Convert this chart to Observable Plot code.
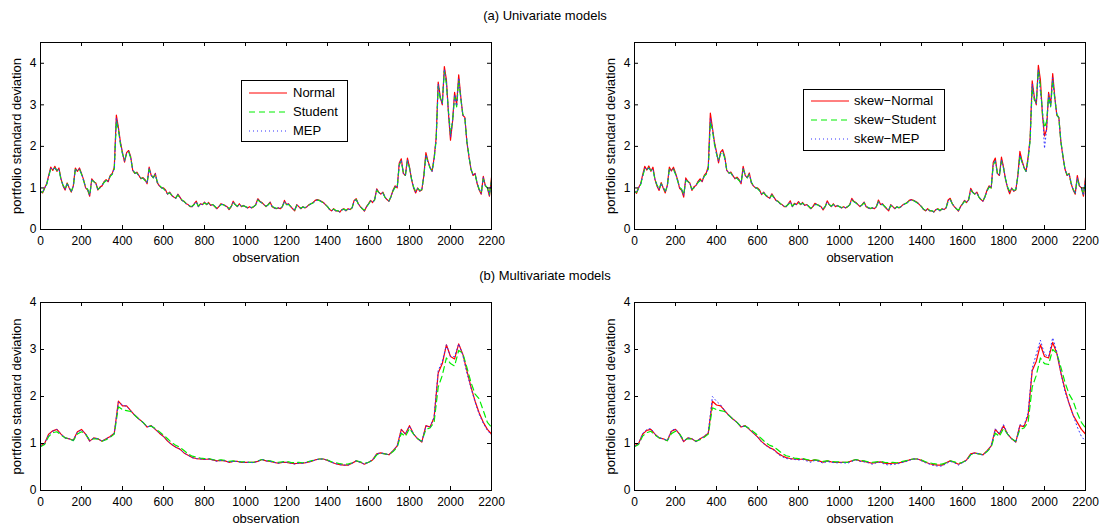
<!DOCTYPE html>
<html>
<head>
<meta charset="utf-8">
<script src="https://cdn.jsdelivr.net/npm/d3@7"></script>
<script src="https://cdn.jsdelivr.net/npm/@observablehq/plot@0.6"></script>
<style>
  body { margin: 0; background: white; }
  #wrap { position: relative; width: 1105px; height: 528px; background: white; overflow: hidden;
          font-family: 'Liberation Sans', Arial, Helvetica, sans-serif; color: black; }
  .panel { position: absolute; }
  .title { position: absolute; left: 0; width: 1090px; text-align: center; font-size: 13px; line-height: 14px; }
  .legend { position: absolute; box-sizing: border-box; border: 1.5px solid black; background: white; }
  .row { position: absolute; left: 0; height: 16px; line-height: 16px; font-size: 13px; width: 100%; }
  .row svg { position: absolute; left: 7px; top: 7px; }
  .row span { position: absolute; }
</style>
</head>
<body>
<div id="wrap"></div>
<script>
// ---------- tick labels / axis text ----------
const xTicks = [0, 200, 400, 600, 800, 1000, 1200, 1400, 1600, 1800, 2000, 2200];
const yTicksUni = [0, 1, 2, 3, 4];
const yTicksMulti = [0, 1, 2, 3, 4];
const xLabel = "observation";
const yLabel = "portfolio standard deviation";
const titleA = "(a) Univariate models";
const titleB = "(b) Multivariate models";
const namesUni = ["Normal", "Student", "MEP"];
const namesSkew = ["skew\u2212Normal", "skew\u2212Student", "skew\u2212MEP"];

// observation index grids
const obs10 = d3.range(0, 2201, 10);
const obs20 = d3.range(0, 2201, 20);

// ---------- (a) univariate, symmetric (step 10) ----------
const uniNormal = [
0.92,0.88,1.0,1.1,1.3,1.5,1.42,1.52,1.4,1.48,
1.22,1.05,0.95,1.12,1.0,0.9,1.05,1.48,1.4,1.48,
1.35,1.2,1.0,0.95,0.8,1.22,1.15,1.12,0.95,1.02,
1.05,1.15,1.2,1.15,1.3,1.35,1.5,2.75,2.45,2.1,
1.85,1.62,1.85,1.9,1.75,1.42,1.35,1.38,1.3,1.22,
1.25,1.2,1.1,1.5,1.3,1.25,1.35,1.12,1.05,1.0,
1.0,0.95,0.85,0.9,0.82,0.78,0.75,0.85,0.78,0.7,
0.68,0.62,0.6,0.55,0.55,0.62,0.68,0.55,0.62,0.6,
0.66,0.6,0.65,0.58,0.6,0.55,0.5,0.55,0.62,0.6,
0.58,0.55,0.48,0.55,0.68,0.6,0.55,0.62,0.55,0.58,
0.55,0.52,0.55,0.52,0.55,0.6,0.74,0.68,0.65,0.6,
0.55,0.6,0.66,0.55,0.52,0.5,0.52,0.5,0.55,0.7,
0.6,0.62,0.55,0.5,0.45,0.6,0.55,0.5,0.55,0.52,
0.55,0.6,0.62,0.65,0.7,0.72,0.7,0.68,0.65,0.6,
0.55,0.48,0.45,0.5,0.45,0.45,0.42,0.48,0.5,0.45,
0.5,0.48,0.52,0.7,0.74,0.62,0.55,0.5,0.44,0.55,
0.62,0.7,0.65,0.72,0.98,0.9,0.85,0.9,0.78,0.72,
0.68,0.8,0.95,1.05,1.0,1.6,1.7,1.35,1.3,1.72,
1.5,1.2,1.0,0.88,1.0,0.92,0.95,1.3,1.85,1.65,
1.5,1.4,1.72,2.2,3.55,3.2,3.0,3.92,3.6,2.8,
2.15,2.6,3.3,3.0,3.72,3.2,2.75,2.7,2.1,1.75,
1.45,1.3,1.35,1.1,0.95,0.85,1.28,1.05,1.0,0.8,
1.25];
const uniStudent = [
0.9,0.9,0.98,1.08,1.28,1.46,1.45,1.48,1.42,1.45,
1.2,1.07,0.97,1.1,1.02,0.92,1.03,1.44,1.42,1.45,
1.33,1.18,1.02,0.97,0.83,1.18,1.16,1.1,0.97,1.0,
1.07,1.13,1.18,1.17,1.28,1.33,1.45,2.62,2.4,2.05,
1.82,1.66,1.82,1.87,1.72,1.44,1.36,1.36,1.28,1.24,
1.23,1.18,1.12,1.45,1.32,1.24,1.33,1.14,1.06,1.01,
0.98,0.93,0.86,0.88,0.83,0.79,0.76,0.83,0.77,0.71,
0.67,0.63,0.59,0.56,0.56,0.6,0.66,0.56,0.61,0.6,
0.64,0.61,0.63,0.59,0.6,0.56,0.51,0.55,0.6,0.6,
0.57,0.55,0.5,0.55,0.65,0.6,0.56,0.6,0.56,0.57,
0.55,0.53,0.54,0.53,0.55,0.59,0.71,0.67,0.64,0.6,
0.56,0.59,0.64,0.56,0.53,0.51,0.52,0.51,0.55,0.67,
0.6,0.6,0.56,0.51,0.47,0.58,0.55,0.51,0.54,0.53,
0.55,0.59,0.62,0.64,0.69,0.71,0.7,0.67,0.64,0.6,
0.55,0.49,0.46,0.49,0.46,0.45,0.43,0.47,0.49,0.46,
0.49,0.48,0.52,0.68,0.72,0.62,0.55,0.5,0.46,0.54,
0.61,0.68,0.65,0.71,0.95,0.89,0.85,0.88,0.78,0.72,
0.69,0.79,0.93,1.02,1.0,1.55,1.65,1.36,1.3,1.65,
1.48,1.22,1.02,0.92,0.99,0.94,0.96,1.28,1.78,1.62,
1.48,1.4,1.68,2.15,3.45,3.15,3.05,3.82,3.5,2.85,
2.3,2.6,3.2,2.95,3.6,3.15,2.78,2.68,2.12,1.78,
1.45,1.32,1.33,1.12,0.97,0.88,1.22,1.06,1.0,0.84,
1.18];
const uniMEP = [
0.91,0.89,0.99,1.09,1.29,1.48,1.43,1.5,1.41,1.46,
1.21,1.06,0.96,1.11,1.01,0.91,1.04,1.46,1.41,1.46,
1.34,1.19,1.01,0.96,0.82,1.2,1.15,1.11,0.96,1.01,
1.06,1.14,1.19,1.16,1.29,1.34,1.47,2.68,2.42,2.08,
1.83,1.64,1.83,1.88,1.73,1.43,1.35,1.37,1.29,1.23,
1.24,1.19,1.11,1.47,1.31,1.24,1.34,1.13,1.05,1.0,
0.99,0.94,0.85,0.89,0.82,0.78,0.75,0.84,0.77,0.7,
0.67,0.62,0.6,0.55,0.55,0.61,0.67,0.55,0.61,0.6,
0.65,0.6,0.64,0.58,0.6,0.55,0.5,0.55,0.61,0.6,
0.57,0.55,0.49,0.55,0.66,0.6,0.55,0.61,0.55,0.57,
0.55,0.52,0.54,0.52,0.55,0.6,0.72,0.67,0.64,0.6,
0.55,0.59,0.65,0.55,0.52,0.5,0.52,0.5,0.55,0.68,
0.6,0.61,0.55,0.5,0.46,0.59,0.55,0.5,0.54,0.52,
0.55,0.59,0.62,0.64,0.69,0.71,0.7,0.67,0.64,0.6,
0.55,0.48,0.45,0.49,0.45,0.45,0.42,0.47,0.49,0.45,
0.49,0.48,0.52,0.69,0.73,0.62,0.55,0.5,0.45,0.54,
0.61,0.69,0.65,0.71,0.96,0.89,0.85,0.89,0.78,0.72,
0.68,0.79,0.94,1.03,1.0,1.57,1.67,1.35,1.3,1.68,
1.49,1.21,1.01,0.9,0.99,0.93,0.95,1.29,1.8,1.63,
1.49,1.4,1.7,2.17,3.5,3.18,3.02,3.86,3.55,2.82,
2.22,2.6,3.25,2.97,3.65,3.18,2.76,2.69,2.11,1.76,
1.45,1.31,1.34,1.11,0.96,0.86,1.25,1.05,1.0,0.82,
1.2];

// ---------- (a) univariate, skewed (step 10) ----------
const skewNormal = [
0.93,0.87,1.01,1.1,1.32,1.52,1.43,1.53,1.4,1.5,
1.2,1.04,0.94,1.13,1.0,0.88,1.06,1.5,1.41,1.5,
1.36,1.2,0.99,0.94,0.78,1.24,1.16,1.12,0.94,1.03,
1.06,1.16,1.22,1.15,1.3,1.36,1.52,2.8,2.45,2.1,
1.86,1.6,1.86,1.92,1.76,1.42,1.36,1.38,1.3,1.22,
1.26,1.2,1.1,1.52,1.3,1.25,1.36,1.12,1.05,1.0,
1.0,0.95,0.84,0.9,0.82,0.78,0.75,0.86,0.78,0.7,
0.68,0.62,0.6,0.55,0.55,0.62,0.69,0.55,0.63,0.6,
0.67,0.6,0.65,0.58,0.6,0.55,0.5,0.55,0.63,0.6,
0.58,0.55,0.47,0.55,0.69,0.6,0.55,0.62,0.55,0.58,
0.55,0.52,0.55,0.52,0.55,0.6,0.75,0.68,0.65,0.6,
0.55,0.6,0.66,0.55,0.52,0.5,0.52,0.5,0.55,0.71,
0.6,0.62,0.55,0.5,0.45,0.6,0.55,0.5,0.55,0.52,
0.55,0.6,0.62,0.65,0.7,0.72,0.7,0.68,0.65,0.6,
0.55,0.48,0.45,0.5,0.45,0.45,0.42,0.48,0.5,0.45,
0.5,0.48,0.52,0.71,0.75,0.62,0.55,0.5,0.44,0.55,
0.62,0.7,0.65,0.72,0.99,0.9,0.85,0.9,0.78,0.72,
0.68,0.8,0.95,1.05,1.0,1.62,1.72,1.35,1.3,1.74,
1.5,1.2,1.0,0.86,1.0,0.92,0.95,1.3,1.88,1.66,
1.5,1.4,1.74,2.2,3.58,3.2,3.0,3.95,3.6,2.75,
2.25,2.4,3.3,3.0,3.75,3.2,2.75,2.7,2.1,1.75,
1.45,1.3,1.35,1.1,0.95,0.85,1.3,1.05,1.0,0.8,
1.25];
const skewStudent = [
0.9,0.9,0.98,1.08,1.28,1.46,1.44,1.48,1.42,1.45,
1.2,1.07,0.97,1.1,1.02,0.92,1.03,1.45,1.42,1.45,
1.33,1.18,1.02,0.97,0.84,1.18,1.16,1.1,0.97,1.0,
1.07,1.13,1.18,1.17,1.28,1.33,1.45,2.6,2.4,2.05,
1.82,1.66,1.82,1.87,1.72,1.44,1.36,1.36,1.28,1.24,
1.23,1.18,1.12,1.45,1.32,1.24,1.33,1.14,1.06,1.01,
0.98,0.93,0.86,0.88,0.83,0.79,0.76,0.83,0.77,0.71,
0.67,0.63,0.59,0.56,0.56,0.6,0.66,0.56,0.61,0.6,
0.64,0.61,0.63,0.59,0.6,0.56,0.51,0.55,0.6,0.6,
0.57,0.55,0.5,0.55,0.65,0.6,0.56,0.6,0.56,0.57,
0.55,0.53,0.54,0.53,0.55,0.59,0.71,0.67,0.64,0.6,
0.56,0.59,0.64,0.56,0.53,0.51,0.52,0.51,0.55,0.67,
0.6,0.6,0.56,0.51,0.47,0.58,0.55,0.51,0.54,0.53,
0.55,0.59,0.62,0.64,0.69,0.71,0.7,0.67,0.64,0.6,
0.55,0.49,0.46,0.49,0.46,0.45,0.43,0.47,0.49,0.46,
0.49,0.48,0.52,0.68,0.72,0.62,0.55,0.5,0.46,0.54,
0.61,0.68,0.65,0.71,0.95,0.89,0.85,0.88,0.78,0.72,
0.69,0.79,0.93,1.02,1.0,1.55,1.65,1.36,1.3,1.65,
1.48,1.22,1.02,0.92,0.99,0.94,0.96,1.28,1.78,1.62,
1.48,1.4,1.68,2.15,3.42,3.12,3.05,3.85,3.45,2.8,
2.45,2.6,3.2,2.95,3.6,3.15,2.78,2.68,2.12,1.78,
1.45,1.32,1.33,1.12,0.97,0.88,1.22,1.06,1.0,0.84,
1.18];
const skewMEP = [
0.91,0.89,0.99,1.09,1.29,1.48,1.43,1.5,1.41,1.46,
1.21,1.06,0.96,1.11,1.01,0.91,1.04,1.46,1.41,1.46,
1.34,1.19,1.01,0.96,0.82,1.2,1.15,1.11,0.96,1.01,
1.06,1.14,1.19,1.16,1.29,1.34,1.47,2.68,2.42,2.08,
1.83,1.64,1.83,1.88,1.73,1.43,1.35,1.37,1.29,1.23,
1.24,1.19,1.11,1.47,1.31,1.24,1.34,1.13,1.05,1.0,
0.99,0.94,0.85,0.89,0.82,0.78,0.75,0.84,0.77,0.7,
0.67,0.62,0.6,0.55,0.55,0.61,0.67,0.55,0.61,0.6,
0.65,0.6,0.64,0.58,0.6,0.55,0.5,0.55,0.61,0.6,
0.57,0.55,0.49,0.55,0.66,0.6,0.55,0.61,0.55,0.57,
0.55,0.52,0.54,0.52,0.55,0.6,0.72,0.67,0.64,0.6,
0.55,0.59,0.65,0.55,0.52,0.5,0.52,0.5,0.55,0.68,
0.6,0.61,0.55,0.5,0.46,0.59,0.55,0.5,0.54,0.52,
0.55,0.59,0.62,0.64,0.69,0.71,0.7,0.67,0.64,0.6,
0.55,0.48,0.45,0.49,0.45,0.45,0.42,0.47,0.49,0.45,
0.49,0.48,0.52,0.69,0.73,0.62,0.55,0.5,0.45,0.54,
0.61,0.69,0.65,0.71,0.96,0.89,0.85,0.89,0.78,0.72,
0.68,0.79,0.94,1.03,1.0,1.57,1.67,1.35,1.3,1.68,
1.49,1.21,1.01,0.9,0.99,0.93,0.95,1.29,1.8,1.63,
1.49,1.4,1.7,2.17,3.5,3.18,3.02,3.86,3.3,2.9,
1.95,2.4,3.25,2.97,3.65,3.18,2.76,2.69,2.11,1.76,
1.45,1.31,1.34,1.11,0.96,0.86,1.25,1.05,1.0,0.82,
1.2];

// ---------- (b) multivariate, symmetric (step 20) ----------
const mvNormal = [
0.95,1.0,1.2,1.27,1.3,1.2,1.12,1.1,1.07,1.25,
1.3,1.2,1.05,1.12,1.1,1.05,1.1,1.15,1.22,1.9,
1.8,1.8,1.7,1.6,1.52,1.45,1.35,1.38,1.3,1.22,
1.15,1.05,0.98,0.92,0.88,0.8,0.75,0.7,0.68,0.67,
0.66,0.67,0.65,0.63,0.64,0.63,0.6,0.62,0.62,0.6,
0.6,0.6,0.6,0.62,0.66,0.63,0.62,0.6,0.58,0.6,
0.6,0.58,0.57,0.58,0.58,0.6,0.62,0.65,0.67,0.67,
0.64,0.6,0.57,0.55,0.54,0.54,0.58,0.63,0.6,0.56,
0.6,0.65,0.78,0.8,0.78,0.76,0.85,0.95,1.3,1.2,
1.38,1.2,1.1,1.03,1.38,1.35,1.55,2.5,2.7,3.1,
2.85,2.8,3.12,2.9,2.55,2.2,1.9,1.65,1.45,1.3,
1.2];
const mvStudent = [
0.93,0.98,1.15,1.23,1.25,1.18,1.12,1.1,1.06,1.2,
1.25,1.2,1.07,1.1,1.1,1.05,1.08,1.13,1.2,1.78,
1.72,1.7,1.68,1.6,1.52,1.45,1.36,1.37,1.32,1.25,
1.18,1.1,1.02,0.96,0.92,0.85,0.78,0.73,0.71,0.69,
0.68,0.68,0.66,0.64,0.65,0.64,0.62,0.63,0.62,0.61,
0.61,0.6,0.6,0.63,0.66,0.64,0.63,0.61,0.6,0.61,
0.62,0.6,0.59,0.6,0.59,0.61,0.63,0.65,0.67,0.67,
0.65,0.61,0.59,0.57,0.56,0.56,0.59,0.63,0.61,0.58,
0.6,0.64,0.76,0.79,0.78,0.76,0.83,0.92,1.22,1.15,
1.32,1.2,1.1,1.05,1.3,1.33,1.45,2.2,2.45,2.82,
2.7,2.65,2.98,2.92,2.62,2.3,2.05,1.95,1.7,1.45,
1.35];
const mvMEP = [
0.95,1.0,1.19,1.26,1.3,1.2,1.12,1.1,1.07,1.24,
1.29,1.2,1.05,1.12,1.1,1.05,1.1,1.15,1.22,1.88,
1.82,1.79,1.7,1.6,1.52,1.45,1.35,1.38,1.3,1.22,
1.15,1.05,0.98,0.92,0.88,0.8,0.75,0.7,0.68,0.67,
0.66,0.67,0.65,0.62,0.64,0.63,0.6,0.62,0.62,0.6,
0.6,0.6,0.59,0.62,0.66,0.63,0.62,0.6,0.58,0.6,
0.6,0.58,0.56,0.58,0.58,0.6,0.62,0.65,0.67,0.67,
0.64,0.6,0.57,0.55,0.54,0.54,0.58,0.63,0.6,0.56,
0.6,0.65,0.78,0.8,0.78,0.76,0.85,0.95,1.29,1.2,
1.37,1.2,1.1,1.03,1.37,1.35,1.56,2.55,2.75,3.1,
2.85,2.85,3.12,2.88,2.5,2.18,1.88,1.62,1.43,1.28,
1.18];

// ---------- (b) multivariate, skewed (step 20) ----------
const mvsNormal = [
0.95,1.0,1.2,1.28,1.3,1.2,1.12,1.1,1.06,1.26,
1.3,1.2,1.04,1.12,1.1,1.04,1.1,1.15,1.22,1.9,
1.82,1.8,1.7,1.6,1.52,1.45,1.35,1.38,1.3,1.22,
1.14,1.04,0.97,0.91,0.87,0.79,0.74,0.7,0.68,0.67,
0.66,0.67,0.65,0.63,0.65,0.63,0.6,0.63,0.61,0.6,
0.6,0.6,0.6,0.63,0.66,0.63,0.62,0.6,0.58,0.6,
0.61,0.58,0.57,0.58,0.58,0.6,0.62,0.65,0.67,0.67,
0.64,0.6,0.57,0.55,0.54,0.54,0.59,0.63,0.6,0.56,
0.6,0.65,0.78,0.8,0.78,0.76,0.85,0.95,1.3,1.2,
1.38,1.2,1.1,1.03,1.38,1.36,1.6,2.55,2.75,3.1,
2.85,2.82,3.15,2.92,2.5,2.15,1.85,1.6,1.45,1.3,
1.2];
const mvsStudent = [
0.93,0.98,1.16,1.23,1.26,1.18,1.12,1.1,1.06,1.21,
1.26,1.2,1.07,1.1,1.1,1.05,1.08,1.13,1.2,1.76,
1.72,1.7,1.68,1.6,1.52,1.45,1.36,1.37,1.32,1.25,
1.18,1.1,1.02,0.96,0.93,0.86,0.79,0.74,0.72,0.69,
0.68,0.68,0.66,0.64,0.65,0.64,0.62,0.63,0.62,0.61,
0.61,0.6,0.6,0.63,0.66,0.64,0.63,0.61,0.6,0.61,
0.62,0.6,0.59,0.6,0.59,0.61,0.63,0.65,0.67,0.67,
0.65,0.61,0.59,0.57,0.56,0.56,0.59,0.63,0.61,0.58,
0.6,0.64,0.76,0.79,0.78,0.76,0.83,0.92,1.22,1.15,
1.32,1.2,1.1,1.05,1.3,1.33,1.45,2.2,2.45,2.82,
2.7,2.68,3.0,2.92,2.62,2.3,2.05,1.9,1.65,1.45,
1.33];
const mvsMEP = [
0.94,1.0,1.22,1.3,1.32,1.2,1.12,1.1,1.06,1.28,
1.31,1.2,1.04,1.12,1.1,1.04,1.1,1.15,1.24,2.0,
1.9,1.82,1.7,1.6,1.52,1.45,1.35,1.38,1.3,1.22,
1.14,1.03,0.96,0.9,0.86,0.77,0.72,0.68,0.67,0.66,
0.65,0.66,0.63,0.6,0.64,0.62,0.58,0.62,0.6,0.59,
0.59,0.59,0.58,0.62,0.65,0.62,0.61,0.59,0.56,0.59,
0.6,0.56,0.54,0.56,0.56,0.59,0.61,0.64,0.67,0.67,
0.63,0.59,0.56,0.53,0.52,0.52,0.57,0.62,0.59,0.54,
0.59,0.64,0.77,0.8,0.78,0.75,0.84,0.95,1.31,1.21,
1.4,1.2,1.1,1.02,1.4,1.38,1.65,2.6,2.9,3.2,
2.9,2.85,3.25,2.95,2.5,2.1,1.85,1.6,1.35,1.15,
1.05];

// ---------- styles ----------
const RED = "#ff0000", GREEN = "#00ee00", BLUE = "#3333ff";
const styles = [
  {color: RED, dash: null, width: 1.2},
  {color: GREEN, dash: "6,4", width: 1.2},
  {color: BLUE, dash: "1,3", width: 1}
];

function panel({w, h, ml, mr, mt, mb, yMax, yTicks, xs, series}) {
  const fw = w - ml - mr, fh = h - mt - mb;
  const lineMarks = series.map((ys, k) =>
    Plot.line(xs.map((x, i) => ({x, y: ys[i]})), {
      x: "x", y: "y", stroke: styles[k].color, strokeWidth: styles[k].width,
      strokeDasharray: styles[k].dash, clip: true
    }));
  return Plot.plot({
    width: w, height: h, marginLeft: ml, marginRight: mr, marginTop: mt, marginBottom: mb,
    x: {domain: [0, 2200]},
    y: {domain: [0, yMax]},
    style: {fontFamily: "'Liberation Sans', Arial, Helvetica, sans-serif", fontSize: "12px",
            color: "black", background: "transparent", overflow: "visible"},
    marks: [
      ...lineMarks,
      Plot.tickX(xTicks, {x: d => d, insetTop: fh - 4, stroke: "black", strokeWidth: 1}),
      Plot.tickX(xTicks, {x: d => d, insetBottom: fh - 4, stroke: "black", strokeWidth: 1}),
      Plot.tickY(yTicks, {y: d => d, insetRight: fw - 4, stroke: "black", strokeWidth: 1}),
      Plot.tickY(yTicks, {y: d => d, insetLeft: fw - 4, stroke: "black", strokeWidth: 1}),
      Plot.frame({stroke: "black", strokeWidth: 1}),
      Plot.axisX(xTicks, {tickSize: 0, tickPadding: 7, label: null, fill: "black", tickFormat: d => String(d)}),
      Plot.axisY(yTicks, {tickSize: 0, tickPadding: 4, label: null, fill: "black", tickFormat: d => String(d)}),
      Plot.text([xLabel], {frameAnchor: "bottom", dy: 23, lineAnchor: "top", textAnchor: "middle", text: d => d, fontSize: 13, fill: "black"}),
      Plot.text([yLabel], {frameAnchor: "left", rotate: -90, dx: -24, textAnchor: "middle", lineAnchor: "middle", text: d => d, fontSize: 13, fill: "black"})
    ]
  });
}

const wrap = document.getElementById("wrap");

function place(node, left, top) {
  const d = document.createElement("div");
  d.className = "panel";
  d.style.left = left + "px";
  d.style.top = top + "px";
  d.appendChild(node);
  wrap.appendChild(d);
}

function title(text, top) {
  const d = document.createElement("div");
  d.className = "title";
  d.style.top = top + "px";
  d.textContent = text;
  wrap.appendChild(d);
}

function legend(names, left, top, width, height, rowTops, textLeft) {
  const box = document.createElement("div");
  box.className = "legend";
  Object.assign(box.style, {left: left + "px", top: top + "px", width: width + "px", height: height + "px"});
  names.forEach((name, k) => {
    const row = document.createElement("div");
    row.className = "row";
    row.style.top = rowTops[k] + "px";
    const s = styles[k];
    row.innerHTML =
      `<svg width="38" height="2" style="overflow:visible"><line x1="0" y1="1" x2="38" y2="1" stroke="${s.color}" stroke-width="1"${s.dash ? ` stroke-dasharray="${s.dash}"` : ""}/></svg>` +
      `<span style="left:${textLeft}px">${name}</span>`;
    box.appendChild(row);
  });
  wrap.appendChild(box);
}

title(titleA, 9);
title(titleB, 269);

place(panel({w: 560, h: 260, ml: 40, mr: 69, mt: 42, mb: 31, yMax: 4.5, yTicks: yTicksUni, xs: obs10,
             series: [uniNormal, uniStudent, uniMEP]}), 0, 0);
place(panel({w: 545, h: 260, ml: 74, mr: 20, mt: 42, mb: 31, yMax: 4.5, yTicks: yTicksUni, xs: obs10,
             series: [skewNormal, skewStudent, skewMEP]}), 560, 0);
place(panel({w: 560, h: 268, ml: 40, mr: 69, mt: 42, mb: 38, yMax: 4, yTicks: yTicksMulti, xs: obs20,
             series: [mvNormal, mvStudent, mvMEP]}), 0, 260);
place(panel({w: 545, h: 268, ml: 74, mr: 20, mt: 42, mb: 38, yMax: 4, yTicks: yTicksMulti, xs: obs20,
             series: [mvsNormal, mvsStudent, mvsMEP]}), 560, 260);

legend(namesUni, 241, 80, 107, 62, [3.5, 22.5, 41.5], 51);
legend(namesSkew, 803, 89, 142, 62, [3, 22, 41], 50);
</script>
</body>
</html>
